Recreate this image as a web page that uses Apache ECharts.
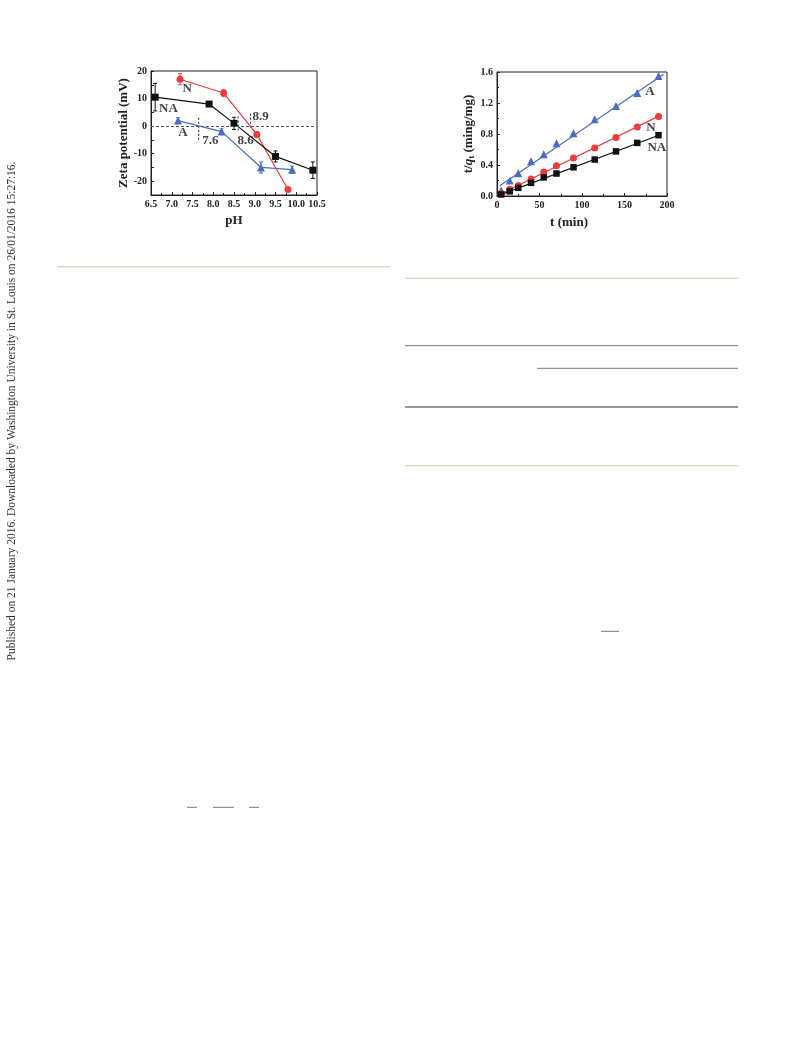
<!DOCTYPE html>
<html>
<head>
<meta charset="utf-8">
<script src="https://cdn.jsdelivr.net/npm/echarts@6/dist/echarts.min.js"></script>
<style>
  html, body { margin: 0; padding: 0; background: #fff; }
  #c { width: 793px; height: 1039px; }
</style>
</head>
<body>
<div id="c"></div>
<script>
// ---- Zeta potential vs pH ----
const phN = [7.2, 8.25, 9.05, 9.8];
const zetaN = [17, 12, -3, -23];
const errN = [2, 1.2, 1, 0.4];

const phNA = [6.6, 7.9, 8.5, 9.5, 10.4];
const zetaNA = [10.5, 8, 1, -11, -16];
const errNA = [5, 0.8, 2.2, 2, 3];

const phA = [7.15, 8.2, 9.15, 9.9];
const zetaA = [2, -2, -15, -15.8];
const errA = [1, 1, 2, 1.3];

// isoelectric points: [pH, top, bottom]
const iepLines = [[7.65, 3, -5], [8.6, 3.5, -2], [8.9, 4.5, -1]];
const iepLabels = [['7.6', 7.93, -5.2], ['8.6', 8.78, -5.2], ['8.9', 9.14, 3.3]];
const zetaSeriesLabels = [['N', 7.37, 13.5], ['NA', 6.92, 6.5], ['A', 7.27, -2.2]];

// ---- Pseudo-second-order kinetics: t/qt vs t ----
const tMin = [5, 15, 25, 40, 55, 70, 90, 115, 140, 165, 190];
const kinA = [0.07, 0.2, 0.295, 0.45, 0.54, 0.68, 0.81, 0.99, 1.16, 1.33, 1.55];
const kinN = [0.03, 0.087, 0.135, 0.22, 0.31, 0.39, 0.49, 0.62, 0.755, 0.89, 1.025];
const kinNA = [0.02, 0.06, 0.105, 0.17, 0.24, 0.29, 0.37, 0.47, 0.575, 0.685, 0.785];
const fitA = [[3, 0.13], [196, 1.57]];
const fitN = [[3, 0.02], [192, 1.04]];
const fitNA = [[3, 0.012], [192, 0.79]];
const kinLabels = [['A', 180, 1.35], ['N', 181, 0.88], ['NA', 188, 0.63]];

const RED = '#ee3b3b';
const BLUE = '#4a6cbf';
const BLACK = '#111111';
const SERIF = '"Liberation Serif", "Times New Roman", serif';

function pairs(xs, ys) { return xs.map((x, i) => [x, ys[i]]); }

function errorBars(idx, xs, ys, es, color) {
  return {
    type: 'custom', xAxisIndex: idx, yAxisIndex: idx, z: 3, silent: true,
    encode: { x: 0, y: [1, 2] },
    data: xs.map((x, i) => [x, ys[i] - es[i], ys[i] + es[i]]),
    renderItem(params, api) {
      const lo = api.coord([api.value(0), api.value(1)]);
      const hi = api.coord([api.value(0), api.value(2)]);
      const w = 2;
      const st = { stroke: color, lineWidth: 1 };
      return {
        type: 'group', children: [
          { type: 'line', shape: { x1: lo[0], y1: lo[1], x2: hi[0], y2: hi[1] }, style: st },
          { type: 'line', shape: { x1: lo[0] - w, y1: lo[1], x2: lo[0] + w, y2: lo[1] }, style: st },
          { type: 'line', shape: { x1: hi[0] - w, y1: hi[1], x2: hi[0] + w, y2: hi[1] }, style: st }
        ]
      };
    }
  };
}

function markerSeries(idx, data, color, symbol, size, withLine) {
  return {
    type: 'line', xAxisIndex: idx, yAxisIndex: idx, z: 4,
    data: data, symbol: symbol, symbolSize: size, showSymbol: true,
    lineStyle: withLine ? { color: color, width: 1.2 } : { width: 0, opacity: 0 },
    itemStyle: { color: color },
    animation: false
  };
}

function fitSeries(idx, data, color) {
  return {
    type: 'line', xAxisIndex: idx, yAxisIndex: idx, z: 2, data: data,
    symbol: 'none', lineStyle: { color: color, width: 1.2 }, animation: false
  };
}

function textSeries(idx, items, size) {
  return {
    type: 'scatter', xAxisIndex: idx, yAxisIndex: idx, z: 6, silent: true,
    symbolSize: 1, itemStyle: { color: 'transparent' },
    data: items.map(it => ({ name: it[0], value: [it[1], it[2]] })),
    label: {
      show: true, position: 'inside', formatter: '{b}',
      fontFamily: SERIF, fontWeight: 'bold', fontSize: size, color: '#111'
    },
    animation: false
  };
}

function axisCommon() {
  return {
    axisLine: { show: true, onZero: false, lineStyle: { color: '#222', width: 1 } },
    axisTick: { show: true, inside: true, length: 3, lineStyle: { color: '#222' } },
    minorTick: { show: true, splitNumber: 2, length: 2, lineStyle: { color: '#222' } },
    splitLine: { show: false },
    axisLabel: { fontFamily: SERIF, fontWeight: 'bold', fontSize: 10, color: '#222', margin: 4 },
    nameTextStyle: { fontFamily: SERIF, fontWeight: 'bold', fontSize: 13, color: '#222' }
  };
}

const series = [];
// zero reference line + isoelectric drop lines
series.push({
  type: 'line', xAxisIndex: 0, yAxisIndex: 0, data: [], z: 1,
  markLine: {
    silent: true, symbol: 'none', animation: false,
    label: { show: false },
    lineStyle: { type: [3, 2], color: '#555', width: 1 },
    data: [{ yAxis: 0 }]
  }
});
iepLines.forEach(l => {
  series.push({
    type: 'line', xAxisIndex: 0, yAxisIndex: 0, z: 1, symbol: 'none',
    data: [[l[0], l[1]], [l[0], l[2]]],
    lineStyle: { type: [2, 2], color: '#222', width: 1 }, animation: false
  });
});
series.push(errorBars(0, phN, zetaN, errN, RED));
series.push(errorBars(0, phNA, zetaNA, errNA, BLACK));
series.push(errorBars(0, phA, zetaA, errA, BLUE));
series.push(markerSeries(0, pairs(phN, zetaN), RED, 'circle', 7, true));
series.push(markerSeries(0, pairs(phNA, zetaNA), BLACK, 'rect', 7, true));
series.push(markerSeries(0, pairs(phA, zetaA), BLUE, 'triangle', 8, true));
series.push(textSeries(0, zetaSeriesLabels, 13));
series.push(textSeries(0, iepLabels, 13));

series.push(fitSeries(1, fitA, BLUE));
series.push(fitSeries(1, fitN, RED));
series.push(fitSeries(1, fitNA, BLACK));
series.push(markerSeries(1, pairs(tMin, kinA), BLUE, 'triangle', 8, false));
series.push(markerSeries(1, pairs(tMin, kinN), RED, 'circle', 7, false));
series.push(markerSeries(1, pairs(tMin, kinNA), BLACK, 'rect', 6.5, false));
series.push(textSeries(1, kinLabels, 13));

const rule = (x1, x2, y, color, w) => ({
  type: 'line', silent: true,
  shape: { x1: x1, y1: y, x2: x2, y2: y },
  style: { stroke: color, lineWidth: w }
});

const chart = echarts.init(document.getElementById('c'), null, { renderer: 'canvas' });
chart.setOption({
  backgroundColor: '#fff',
  animation: false,
  grid: [
    { left: 151, top: 71, width: 166, height: 124, show: true, borderColor: '#222', borderWidth: 1, outerBoundsMode: 'none' },
    { left: 497, top: 72, width: 170, height: 124, show: true, borderColor: '#222', borderWidth: 1, outerBoundsMode: 'none' }
  ],
  xAxis: [
    Object.assign(axisCommon(), {
      type: 'value', gridIndex: 0, min: 6.5, max: 10.5, interval: 0.5,
      name: 'pH', nameLocation: 'middle', nameGap: 19,
      axisLabel: Object.assign(axisCommon().axisLabel, { formatter: v => v.toFixed(1) })
    }),
    Object.assign(axisCommon(), {
      type: 'value', gridIndex: 1, min: 0, max: 200, interval: 50,
      name: 't (min)', nameLocation: 'middle', nameGap: 20,
      nameTextStyle: Object.assign(axisCommon().nameTextStyle, { padding: [0, 26, 0, 0] })
    })
  ],
  yAxis: [
    Object.assign(axisCommon(), {
      type: 'value', gridIndex: 0, min: -25, max: 20, interval: 5,
      minorTick: { show: false },
      name: 'Zeta potential (mV)', nameLocation: 'middle', nameGap: 20,
      axisLabel: Object.assign(axisCommon().axisLabel, { formatter: v => (v % 10 === 0 ? String(v) : '') })
    }),
    Object.assign(axisCommon(), {
      type: 'value', gridIndex: 1, min: 0, max: 1.6, interval: 0.4,
      name: '{a|t/}{q|q}{s|t}{a| (ming/mg)}', nameLocation: 'middle', nameGap: 17,
      axisLabel: Object.assign(axisCommon().axisLabel, { formatter: v => v.toFixed(1) }),
      nameTextStyle: {
        rich: {
          a: { fontFamily: SERIF, fontWeight: 'bold', fontSize: 13, color: '#222' },
          q: { fontFamily: SERIF, fontWeight: 'bold', fontStyle: 'italic', fontSize: 13, color: '#222' },
          s: { fontFamily: SERIF, fontWeight: 'bold', fontSize: 9, color: '#222', verticalAlign: 'bottom', padding: [6, 0, 0, 0] }
        }
      }
    })
  ],
  series: series,
  graphic: [
    {
      type: 'text', x: 12, y: 411, rotation: Math.PI / 2, silent: true,
      style: {
        text: 'Published on 21 January 2016. Downloaded by Washington University in St. Louis on 26/01/2016 15:27:16.',
        font: '11.5px "Liberation Serif", serif', fill: '#333',
        textAlign: 'center', textVerticalAlign: 'middle'
      }
    },
    rule(57, 390, 266.7, '#ddd9c6', 1.6),
    rule(405, 738, 278.3, '#ddd9c6', 1.6),
    rule(405, 738, 345.7, '#777', 1),
    rule(537, 738, 368.3, '#777', 1),
    rule(405, 738, 407, '#333', 1),
    rule(405, 738, 465.7, '#ddd9c6', 1.6),
    rule(187, 197, 807.3, '#777', 1),
    rule(213, 234, 807.3, '#777', 1),
    rule(249, 259, 807.3, '#777', 1),
    rule(601, 619, 631.3, '#777', 1)
  ]
});
</script>
</body>
</html>
